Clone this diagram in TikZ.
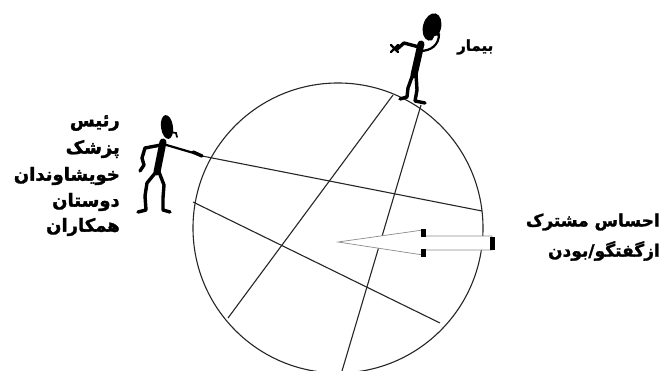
\documentclass[tikz,border=0pt]{standalone}
\usepackage{fontspec}
\newfontfamily\fa[Script=Arabic,BoldFeatures={FakeBold=1.6}]{DejaVu Sans}
\TeXXeTstate=1
\begin{document}
\begin{tikzpicture}[x=1pt,y=-1pt,
  chord/.style={line width=1.1pt,black!85},
  limb/.style={line width=3.4pt,line cap=round,line join=round},
  thin limb/.style={line width=2.2pt,line cap=round,line join=round},
  trunk/.style={line width=7pt,line cap=round},
  label/.style={font=\fa\bfseries,inner sep=0pt},
  big/.style={font=\fa\bfseries\fontsize{18}{20}\selectfont},
  mid/.style={font=\fa\bfseries\fontsize{17}{19}\selectfont},
  small/.style={font=\fa\bfseries\fontsize{15}{17}\selectfont},
  arrowbody/.style={draw=black!45,line width=0.7pt,fill=white},
  tick/.style={fill=black}]
\useasboundingbox (0,0) rectangle (663,371);
\fill[white] (0,0) rectangle (663,371);

% the circle and its chords
\coordinate (c) at (338,228);
\draw[chord] (c) circle[radius=145];
\coordinate (a1) at (393,95);   \coordinate (a2) at (228,318);
\coordinate (b1) at (421,105);  \coordinate (b2) at (342,371);
\coordinate (h1) at (197,155);  \coordinate (h2) at (482,211);
\coordinate (d1) at (193,202);  \coordinate (d2) at (440,323);
\draw[chord] (a1) -- (a2);
\draw[chord] (b1) -- (b2);
\draw[chord] (h1) -- (h2);
\draw[chord] (d1) -- (d2);

% hollow arrow pointing into the circle
\coordinate (tip) at (338,242);
\draw[arrowbody] (tip) -- (423,230) -- (423,236) -- (492,236) -- (492,250)
  -- (423,250) -- (423,255) -- cycle;
\fill[tick] (420.5,229) rectangle (425.5,237);
\fill[tick] (420.5,249) rectangle (425.5,257);
\fill[tick] (490,237) rectangle (495,250);

% standing figure on top of the circle
\fill[rotate around={-15:(432,27)}] (432,27) ellipse[x radius=9,y radius=14];
\draw[trunk] (421,44) -- (414,75);
\draw[limb] (419,47) -- (404,43) -- (396,50);
\draw[thin limb] (391,45) -- (398,52) (398,45) -- (391,52);
\draw[limb,white] (425,48) -- (432,44) -- (436,37);
\draw[thin limb] (420,51) .. controls (431,51) and (439,45) .. (439,34);
\draw[limb] (413,74) -- (408,88) -- (407,97) -- (400,99);
\draw[limb] (416,74) -- (417,90) -- (415,101) -- (425,103);

% pointing figure on the left
\fill[rotate around={8:(167,127)}] (167,127) ellipse[x radius=6,y radius=12];
\draw[line width=1.8pt,line cap=round] (170,132) -- (176,133) -- (177,137);
\draw[trunk] (163,142) -- (157,172);
\draw[thin limb] (163,144) -- (197,154);
\draw[limb] (193,152) -- (202,156);
\draw[limb] (161,145) -- (145,148) -- (142,158) -- (144,165) -- (140,171);
\draw[limb] (156,172) -- (147,183) -- (145,196) -- (146,210) -- (138,212);
\draw[limb] (159,172) -- (164,185) -- (163,198) -- (163,210) -- (170,212);

% labels
\node[label,small,anchor=west] (patient) at (457,47) {\beginR بیمار\endR};
\node[label,big,anchor=east] (l1) at (120,123) {\beginR رئیس\endR};
\node[label,big,anchor=east] (l2) at (120,149) {\beginR پزشک\endR};
\node[label,big,anchor=east] (l3) at (120,176) {\beginR خویشاوندان\endR};
\node[label,big,anchor=east] (l4) at (120,202) {\beginR دوستان\endR};
\node[label,big,anchor=east] (l5) at (120,227) {\beginR همکاران\endR};
\node[label,mid,anchor=east] (r1) at (660,222) {\beginR احساس مشترک\endR};
\node[label,mid,anchor=east] (r2) at (660,251) {\beginR ازگفتگو/بودن\endR};
\end{tikzpicture}
\end{document}
